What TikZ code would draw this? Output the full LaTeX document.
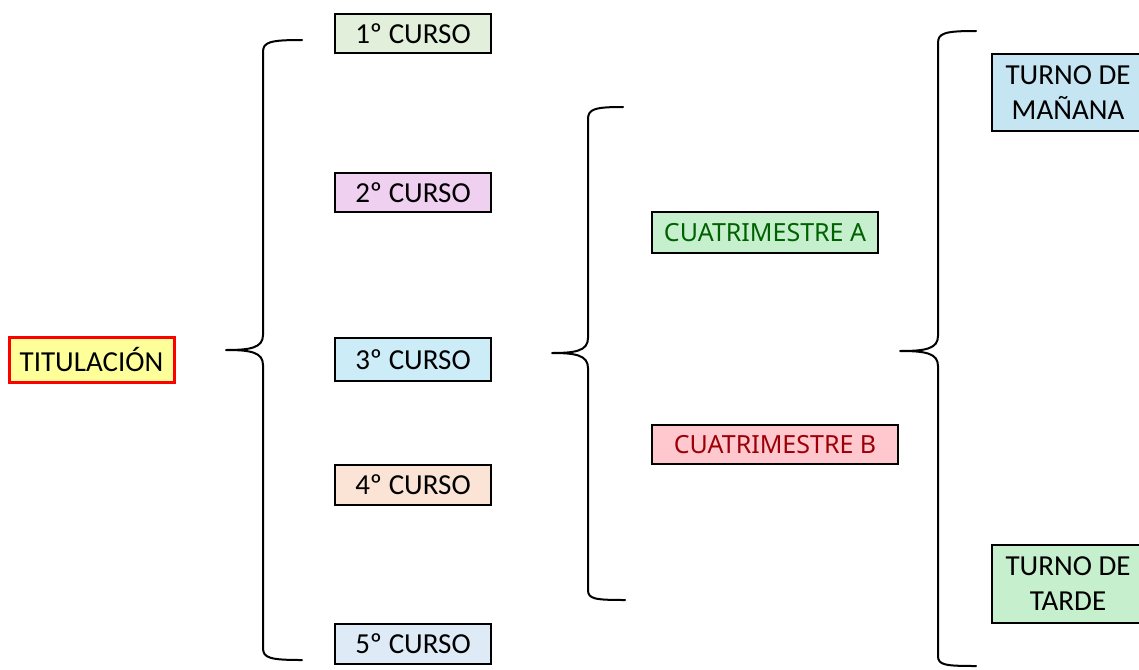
\documentclass[tikz,border=0pt]{standalone}
\usepackage{fontspec}
\setmainfont{Carlito}
\newfontfamily\cuatfont{Noto Sans}
\definecolor{cyel}{RGB}{255,255,153}
\definecolor{cgreen1}{RGB}{226,239,218}
\definecolor{cpink}{RGB}{240,208,240}
\definecolor{cblue3}{RGB}{204,236,248}
\definecolor{cpeach}{RGB}{251,228,213}
\definecolor{cblue5}{RGB}{222,235,247}
\definecolor{cagreen}{RGB}{198,239,206}
\definecolor{catext}{RGB}{0,97,0}
\definecolor{cbred}{RGB}{255,199,206}
\definecolor{cbtext}{RGB}{156,0,6}
\definecolor{cmanana}{RGB}{197,229,243}
\begin{document}
\begin{tikzpicture}[x=1pt,y=-1pt,
  box/.style={draw=black,line width=1.6pt,inner sep=0pt,font=\fontsize{29}{33}\selectfont,align=center},
  brace/.style={draw=black,line width=2pt,line cap=round,line join=round}]
\useasboundingbox (0,0) rectangle (1139,669);
\node[box,draw=red,line width=3pt,fill=cyel,minimum width=165pt,minimum height=45pt] (tit) at (91.5,359.5) {TITULACIÓN};
\node[box,fill=cgreen1,minimum width=156pt,minimum height=39pt] (c1) at (413,33.5) {1º CURSO};
\node[box,fill=cpink,minimum width=156pt,minimum height=39pt] (c2) at (413,192.5) {2º CURSO};
\node[box,fill=cblue3,minimum width=156pt,minimum height=43pt] (c3) at (413,359.5) {3º CURSO};
\node[box,fill=cpeach,minimum width=156pt,minimum height=40pt] (c4) at (413,485) {4º CURSO};
\node[box,fill=cblue5,minimum width=156pt,minimum height=40pt] (c5) at (413,644) {5º CURSO};
\node[box,fill=cagreen,text=catext,font=\cuatfont\fontsize{25}{29}\selectfont,minimum width=226pt,minimum height=41pt] (ca) at (765,232.5) {CUATRIMESTRE A};
\node[box,fill=cbred,text=cbtext,font=\cuatfont\fontsize{25}{29}\selectfont,minimum width=246pt,minimum height=39pt] (cb) at (775,444.5) {CUATRIMESTRE B};
\node[box,fill=cmanana,minimum width=152pt,minimum height=77pt,font=\fontsize{29}{35}\selectfont] (tm) at (1068,92.5) {TURNO DE\\MAÑANA};
\node[box,fill=cagreen,minimum width=152pt,minimum height=78pt,font=\fontsize{29}{35}\selectfont] (tt) at (1068,584) {TURNO DE\\TARDE};
% braces
\coordinate (b1) at (226,350);
\draw[brace] (302,40) .. controls (270,40) and (263,42) .. (263,52) -- (263,335) .. controls (263,348) and (250,350) .. (b1) .. controls (250,350) and (263,352) .. (263,365) -- (263,648) .. controls (263,658) and (270,660) .. (302,660);
\coordinate (b2) at (552,353);
\draw[brace] (623,107) .. controls (595,107) and (588,109) .. (588,119) -- (588,338) .. controls (588,351) and (575,353) .. (b2) .. controls (575,353) and (588,355) .. (588,368) -- (588,590) .. controls (588,599) and (595,600) .. (625,600);
\coordinate (b3) at (900,351);
\draw[brace] (976,31) .. controls (945,31) and (938,33) .. (938,43) -- (938,336) .. controls (938,349) and (925,351) .. (b3) .. controls (925,351) and (938,353) .. (938,366) -- (938,656) .. controls (938,665) and (945,666) .. (976,666);
\end{tikzpicture}
\end{document}
